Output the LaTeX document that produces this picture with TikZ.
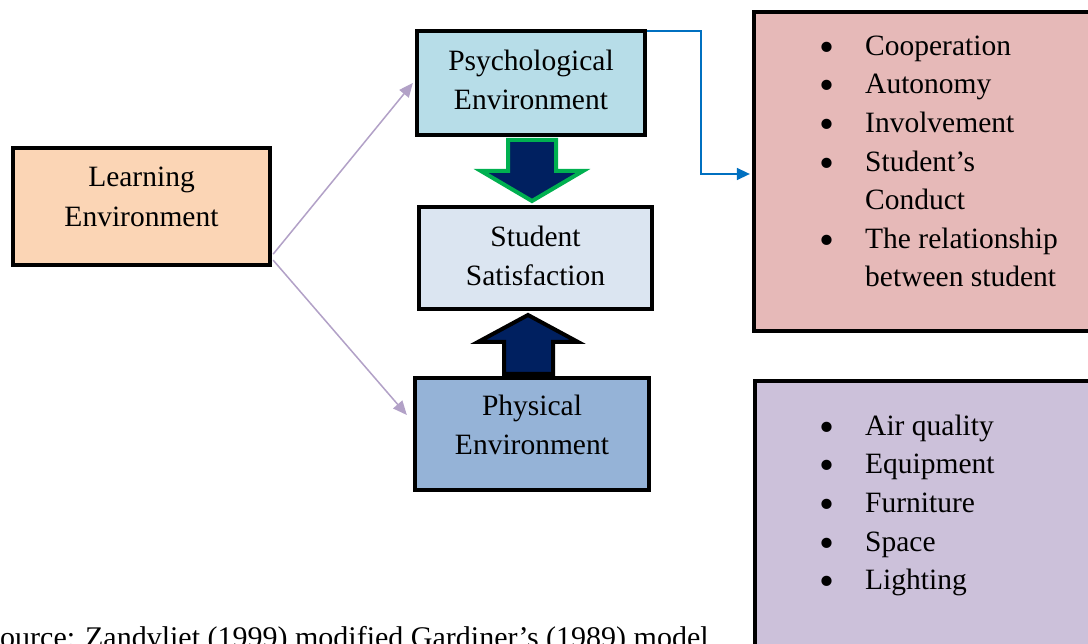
\documentclass[tikz,border=0pt]{standalone}
\usepackage{fontspec}
\setmainfont{Liberation Serif}
\usetikzlibrary{arrows.meta,calc}
\definecolor{peach}{HTML}{FBD5B5}
\definecolor{psyblue}{HTML}{B7DDE8}
\definecolor{satblue}{HTML}{DBE5F1}
\definecolor{phyblue}{HTML}{95B3D7}
\definecolor{pinkbox}{HTML}{E6B9B8}
\definecolor{lilac}{HTML}{CCC1DA}
\definecolor{linelilac}{HTML}{B2A1C7}
\definecolor{conblue}{HTML}{0070C0}
\definecolor{navyfill}{HTML}{002060}
\definecolor{arrgreen}{HTML}{00B050}
\newcommand{\dropd}[1]{\rule[-#1pt]{0pt}{#1pt}}
\newcommand{\itembul}{\makebox[46pt][l]{\raisebox{-6pt}{\scalebox{1.45}{\textbullet}}}}
\begin{document}
\begin{tikzpicture}[x=1pt,y=-1pt,
  box/.style={draw=black,line width=4.3pt,align=center,inner sep=0pt,
    font=\fontsize{29.5}{39.5}\selectfont},
  listtext/.style={inner sep=0pt,font=\fontsize{29.5}{38.6}\selectfont},
  lilacline/.style={draw=linelilac,line width=1.5pt,-{Triangle[length=14pt,width=12pt]}},
  blueline/.style={draw=conblue,line width=1.5pt,-{Triangle[length=13pt,width=12pt]}},
  blockarrow/.style={fill=navyfill,line width=4pt}]
\useasboundingbox (0,0) rectangle (1088,644);
\clip (0,0) rectangle (1088,644);
\fill[white] (0,0) rectangle (1088,644);

\node[box,fill=peach,minimum width=257pt,minimum height=117pt] (learn) at (141.5,206.5) {Learning\\Environment\dropd{19.5}};
\node[box,fill=psyblue,minimum width=228pt,minimum height=104pt] (psy) at (531,83) {Psychological\\Environment\dropd{6.5}};
\node[box,fill=satblue,minimum width=233pt,minimum height=102pt] (sat) at (535.5,258) {Student\\Satisfaction\dropd{4.5}};
\node[box,fill=phyblue,minimum width=234pt,minimum height=112pt] (phys) at (532,434) {Physical\\Environment\dropd{18.5}};
\node[box,fill=pinkbox,minimum width=346pt,minimum height=319pt] (pink) at (927,171.5) {};
\node[box,fill=lilac,minimum width=345pt,minimum height=279pt] (lil) at (927.5,520.5) {};

\node[listtext,anchor=north west] (psylist) at (819,28) {\begin{tabular}{@{}l@{}l@{}}
\itembul & Cooperation\\
\itembul & Autonomy\\
\itembul & Involvement\\
\itembul & Student’s\\
 & Conduct\\
\itembul & The relationship\\
 & between student
\end{tabular}};

\node[listtext,anchor=north west] (phylist) at (819,408) {\begin{tabular}{@{}l@{}l@{}}
\itembul & Air quality\\
\itembul & Equipment\\
\itembul & Furniture\\
\itembul & Space\\
\itembul & Lighting
\end{tabular}};

\node[anchor=base west,inner sep=0pt,font=\fontsize{30}{36}\selectfont] (src) at (0,647) {ource: Zandvliet (1999) modified Gardiner’s (1989) model};

% block arrows
\draw[blockarrow,draw=arrgreen] (508,140) -- (556,140) -- (556,171) -- (583,171) -- (532,201) -- (481,171) -- (508,171) -- cycle;
\draw[blockarrow,draw=black] (504,374) -- (504,342) -- (478,342) -- (528,315) -- (578,342) -- (553,342) -- (553,374) -- cycle;

% connectors
\draw[lilacline] ($(learn.south east)+(1,-13)$) -- ($(psy.west)+(-2,0)$);
\draw[lilacline] ($(learn.south east)+(1,-7)$) -- ($(phys.west)+(-6,-19)$);
\draw[blueline] ($(psy.north east)+(0,2)$) -- ++(54,0) |- ($(pink.west)+(-2,2.5)$);
\end{tikzpicture}
\end{document}
